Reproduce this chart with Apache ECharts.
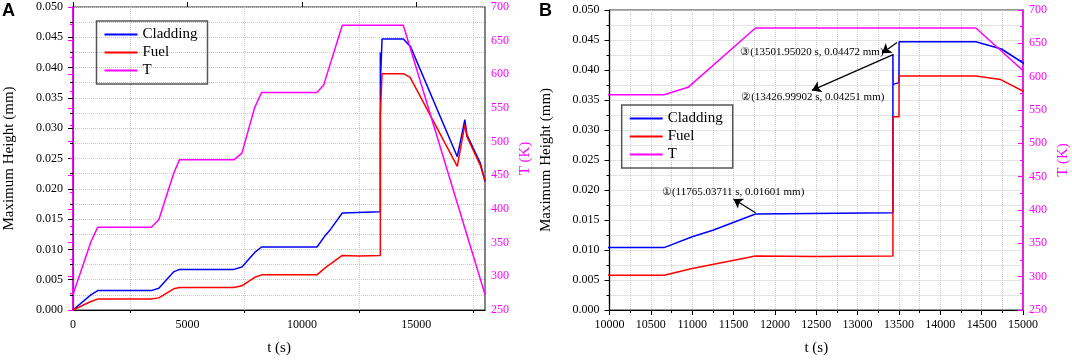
<!DOCTYPE html>
<html>
<head>
<meta charset="utf-8">
<script src="https://cdn.jsdelivr.net/npm/echarts@6/dist/echarts.min.js"></script>
<style>
  html, body { margin: 0; padding: 0; background: #fff; }
  #chart { width: 1072px; height: 361px; }
</style>
</head>
<body>
<div id="chart"></div>
<script>
// time (s), maximum height (mm)
const cladding = [
  [0, 0], [780, 0.0025], [1080, 0.0032], [3420, 0.0032], [3750, 0.0036],
  [4400, 0.0063], [4650, 0.0067], [7030, 0.0067], [7380, 0.0071], [7940, 0.0095],
  [8240, 0.0104], [10660, 0.0104], [11000, 0.0122], [11250, 0.0133], [11765, 0.0160],
  [13427, 0.0162], [13427, 0.04251], [13429, 0.0376], [13500, 0.0379], [13502, 0.04472],
  [14430, 0.04472], [14740, 0.0435], [16790, 0.0253], [17120, 0.0314], [17210, 0.0289],
  [17800, 0.0242], [18000, 0.0212]
];
const fuel = [
  [0, 0], [780, 0.0014], [1080, 0.0018], [3420, 0.0018], [3750, 0.0020],
  [4400, 0.0035], [4650, 0.0037], [7030, 0.0037], [7380, 0.0040], [7940, 0.0054],
  [8240, 0.0058], [10660, 0.0058], [11000, 0.0069], [11765, 0.0090], [12500, 0.0089],
  [13427, 0.0090], [13428, 0.0322], [13500, 0.0322], [13502, 0.0390], [14430, 0.0390],
  [14730, 0.0384], [16790, 0.0237], [17120, 0.0306], [17210, 0.0286], [17800, 0.0238],
  [18000, 0.0214]
];
// time (s), temperature (K)
const temperature = [
  [0, 273], [780, 351], [1080, 373], [3420, 373], [3750, 384], [4400, 453],
  [4650, 473], [7030, 473], [7380, 483], [7940, 551], [8240, 573], [10660, 573],
  [10950, 584], [11765, 673], [14430, 673], [18000, 273]
];

const xLabelsA = [0, 5000, 10000, 15000];
const xMinorA = [2500, 7500, 12500, 17500];

// annotations in panel B
const annoText = [
  '①(11765.03711 s, 0.01601 mm)',
  '②(13426.99902 s, 0.04251 mm)',
  '③(13501.95020 s, 0.04472 mm)'
];
const annoTextAt = [[11495, 0.0196], [12458, 0.0354], [12448, 0.0429]];
const annoArrows = [
  [[11765, 0.0162], [11499, 0.0185]],
  [[13436, 0.0426], [12448, 0.0366]],
  [[13477, 0.0446], [13295, 0.0428]]
];

const serif = 'Liberation Serif';
const gridLine = { show: true, lineStyle: { color: '#c8c8c8', type: 'dotted', width: 1 } };
const black = { show: true, lineStyle: { color: '#000', width: 1.2 } };
const pink = '#ff00ff';
const plain = (v) => String(v);

function leftAxis(gridIndex) {
  return {
    type: 'value', gridIndex, position: 'left', min: 0, max: 0.05, interval: 0.005,
    name: 'Maximum Height (mm)', nameLocation: 'middle', nameGap: 56, nameRotate: 90,
    nameTextStyle: { fontFamily: serif, fontSize: 15, color: '#000' },
    axisLine: black,
    axisTick: { show: true, length: 5, lineStyle: { color: '#000' } },
    minorTick: { show: true, splitNumber: 2, length: 3, lineStyle: { color: '#000' } },
    axisLabel: { fontFamily: serif, fontSize: 12, color: '#000', margin: 10,
      formatter: (v) => v.toFixed(3) },
    splitLine: gridLine,
    minorSplitLine: gridLine
  };
}

function rightAxis(gridIndex) {
  return {
    type: 'value', gridIndex, position: 'right', min: 250, max: 700, interval: 50,
    name: 'T (K)', nameLocation: 'middle', nameGap: 33, nameRotate: 90,
    nameTextStyle: { fontFamily: serif, fontSize: 15, color: pink },
    axisLine: { show: true, lineStyle: { color: pink, width: 1.6 } },
    axisTick: { show: true, inside: true, length: 5, lineStyle: { color: pink } },
    minorTick: { show: true, splitNumber: 2, length: 3, lineStyle: { color: pink } },
    axisLabel: { fontFamily: serif, fontSize: 12, color: pink, margin: 6, formatter: plain },
    splitLine: { show: false }
  };
}

function legend(left, top) {
  return {
    orient: 'vertical', left, top,
    data: [
      { name: 'Cladding', icon: 'rect' },
      { name: 'Fuel', icon: 'rect' },
      { name: 'T', icon: 'rect' }
    ],
    itemWidth: 33, itemHeight: 2, itemGap: 3,
    padding: [6, 10, 6, 8],
    borderColor: '#555', borderWidth: 1.5,
    textStyle: { fontFamily: serif, fontSize: 15, color: '#000' }
  };
}

function lines(x, yl, yr) {
  return [
    { name: 'Cladding', type: 'line', xAxisIndex: x, yAxisIndex: yl, data: cladding,
      symbol: 'none', color: '#0000ff', lineStyle: { width: 1.5 } },
    { name: 'Fuel', type: 'line', xAxisIndex: x, yAxisIndex: yl, data: fuel,
      symbol: 'none', color: '#ff0000', lineStyle: { width: 1.5 } },
    { name: 'T', type: 'line', xAxisIndex: x, yAxisIndex: yr, data: temperature,
      symbol: 'none', color: pink, lineStyle: { width: 1.5 } }
  ];
}

const seriesA = lines(0, 0, 1);
const seriesB = lines(2, 2, 3);
seriesB[0].markLine = {
  silent: true, symbol: ['none', 'arrow'], symbolSize: 9,
  label: { show: false },
  emphasis: { disabled: true },
  lineStyle: { color: '#000', width: 1.2, type: 'solid' },
  data: annoArrows.map(a => [{ coord: a[0] }, { coord: a[1] }])
};
seriesB[0].markPoint = {
  silent: true, symbol: 'circle', symbolSize: 1,
  itemStyle: { color: 'rgba(0,0,0,0)' },
  data: annoText.map((t, i) => ({
    coord: annoTextAt[i],
    label: { show: true, position: 'inside', formatter: t,
      fontFamily: serif, fontSize: 11, color: '#000' }
  }))
};

const chart = echarts.init(document.getElementById('chart'));
chart.setOption({
  animation: false,
  backgroundColor: '#fff',
  grid: [
    { left: 73, top: 7, width: 412, height: 304, show: true, borderColor: '#333', borderWidth: 1.2 },
    { left: 609.5, top: 10, width: 413.5, height: 304, show: true, borderColor: '#333', borderWidth: 1.2 }
  ],
  legend: [legend(96.5, 21), legend(621.7, 105)],
  xAxis: [
    {
      type: 'value', gridIndex: 0, min: 0, max: 18000, interval: 2500,
      name: 't (s)', nameLocation: 'middle', nameGap: 31,
      nameTextStyle: { fontFamily: serif, fontSize: 15, color: '#000' },
      axisLine: black,
      axisTick: { show: true, length: 3, customValues: xMinorA, lineStyle: { color: '#000' } },
      axisLabel: { fontFamily: serif, fontSize: 12, color: '#000', margin: 9,
        customValues: xLabelsA, formatter: plain },
      splitLine: gridLine
    },
    {
      type: 'value', gridIndex: 0, min: 0, max: 18000, interval: 5000,
      axisLine: { show: false },
      axisTick: { show: true, length: 5, customValues: xLabelsA, lineStyle: { color: '#000' } },
      axisLabel: { show: false },
      splitLine: { show: false }
    },
    {
      type: 'value', gridIndex: 1, min: 10000, max: 15000, interval: 500,
      name: 't (s)', nameLocation: 'middle', nameGap: 31,
      nameTextStyle: { fontFamily: serif, fontSize: 15, color: '#000' },
      axisLine: black,
      axisTick: { show: true, length: 5, lineStyle: { color: '#000' } },
      minorTick: { show: true, splitNumber: 2, length: 3, lineStyle: { color: '#000' } },
      axisLabel: { fontFamily: serif, fontSize: 12, color: '#000', margin: 9, formatter: plain },
      splitLine: gridLine,
      minorSplitLine: gridLine
    }
  ],
  yAxis: [leftAxis(0), rightAxis(0), leftAxis(1), rightAxis(1)],
  graphic: [
    { type: 'text', left: 2, top: 2, style: { text: 'A', font: 'bold 18px "Liberation Sans"', fill: '#000' } },
    { type: 'text', left: 539, top: 2, style: { text: 'B', font: 'bold 18px "Liberation Sans"', fill: '#000' } }
  ],
  series: seriesA.concat(seriesB)
});
</script>
</body>
</html>
